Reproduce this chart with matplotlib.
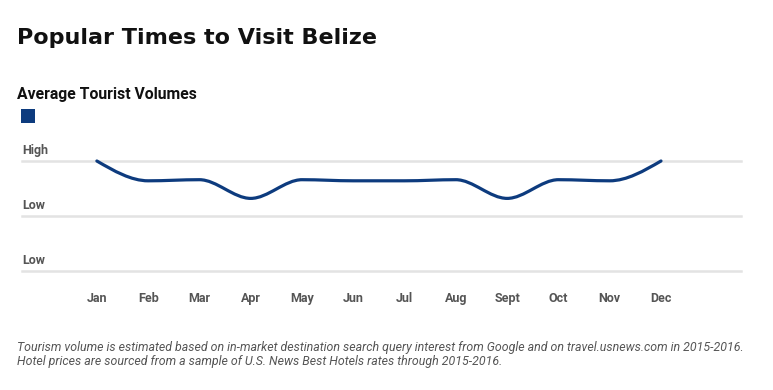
import numpy as np
import matplotlib.pyplot as plt
from matplotlib.path import Path
from matplotlib.patches import PathPatch, Rectangle

months = ["Jan", "Feb", "Mar", "Apr", "May", "Jun", "Jul", "Aug", "Sept", "Oct", "Nov", "Dec"]
volumes = [100, 82, 83, 66, 83, 82, 82, 83, 66, 83, 82, 100]
y_ticks = [0, 50, 100]
y_labels = ["Low", "Low", "High"]

line_color = "#0d3b7e"
text_gray = "#555555"


def monotone_bezier(x, y):
    # monotone cubic hermite -> bezier segments, like d3.curveMonotoneX
    x = np.asarray(x, float)
    y = np.asarray(y, float)
    h = np.diff(x)
    d = np.diff(y) / h
    m = np.zeros_like(y)
    for i in range(1, len(y) - 1):
        if d[i - 1] * d[i] <= 0:
            m[i] = 0
        else:
            m[i] = (np.sign(d[i - 1]) + np.sign(d[i])) * min(abs(d[i - 1]), abs(d[i]),
                                                              0.5 * abs((h[i - 1] * d[i] + h[i] * d[i - 1]) / (h[i - 1] + h[i])))
    m[0] = (3 * d[0] - m[1]) / 2
    m[-1] = (3 * d[-1] - m[-2]) / 2
    verts = [(x[0], y[0])]
    codes = [Path.MOVETO]
    for i in range(len(x) - 1):
        dx = h[i] / 3
        verts += [(x[i] + dx, y[i] + m[i] * dx), (x[i + 1] - dx, y[i + 1] - m[i + 1] * dx), (x[i + 1], y[i + 1])]
        codes += [Path.CURVE4] * 3
    return Path(verts, codes)


fig = plt.figure(figsize=(7.73, 3.90), dpi=100)
ax = fig.add_axes([22 / 773, 1 - 271 / 390, (741 - 22) / 773, 110 / 390])

xs = np.arange(len(months))
ax.set_xlim(-1.46, 12.56)
ax.set_ylim(0, 100)

for yt, lab in zip(y_ticks, y_labels):
    ax.axhline(yt, color="#e3e3e3", lw=1.8, clip_on=False, zorder=1)
    ax.annotate(lab, xy=(0, yt), xycoords=("axes fraction", "data"), xytext=(0, 3),
                textcoords="offset points", ha="left", va="bottom",
                fontsize=9, color=text_gray, family="Roboto", fontweight="bold")

patch = PathPatch(monotone_bezier(xs, volumes), facecolor="none", edgecolor=line_color,
                  lw=2.3, clip_on=False, zorder=3, capstyle="round")
ax.add_patch(patch)

ax.set_xticks(xs)
ax.set_xticklabels(months, fontsize=9, color=text_gray, family="Roboto", fontweight="bold")
ax.tick_params(axis="x", length=0, pad=15)
ax.set_yticks([])
for s in ax.spines.values():
    s.set_visible(False)

fig.text(17 / 773, 1 - 38 / 390, "Popular Times to Visit Belize", fontsize=16, fontweight="bold",
         family="DejaVu Sans", color="#111111", va="center")
fig.text(17 / 773, 1 - 95 / 390, "Average Tourist Volumes", fontsize=11.3, fontweight="bold",
         family="Roboto", color="#111111", va="center")
fig.patches.append(Rectangle((21 / 773, 1 - 123 / 390), 14 / 773, 14 / 390, transform=fig.transFigure,
                             facecolor=line_color, edgecolor="none"))

fig.text(17 / 773, 1 - 347 / 390,
         "Tourism volume is estimated based on in-market destination search query interest from Google and on travel.usnews.com in 2015-2016.",
         fontsize=8.9, style="italic", family="Roboto", color=text_gray, va="center")
fig.text(17 / 773, 1 - 361 / 390,
         "Hotel prices are sourced from a sample of U.S. News Best Hotels rates through 2015-2016.",
         fontsize=8.9, style="italic", family="Roboto", color=text_gray, va="center")

fig.savefig("out.png", dpi=100, facecolor="white")
